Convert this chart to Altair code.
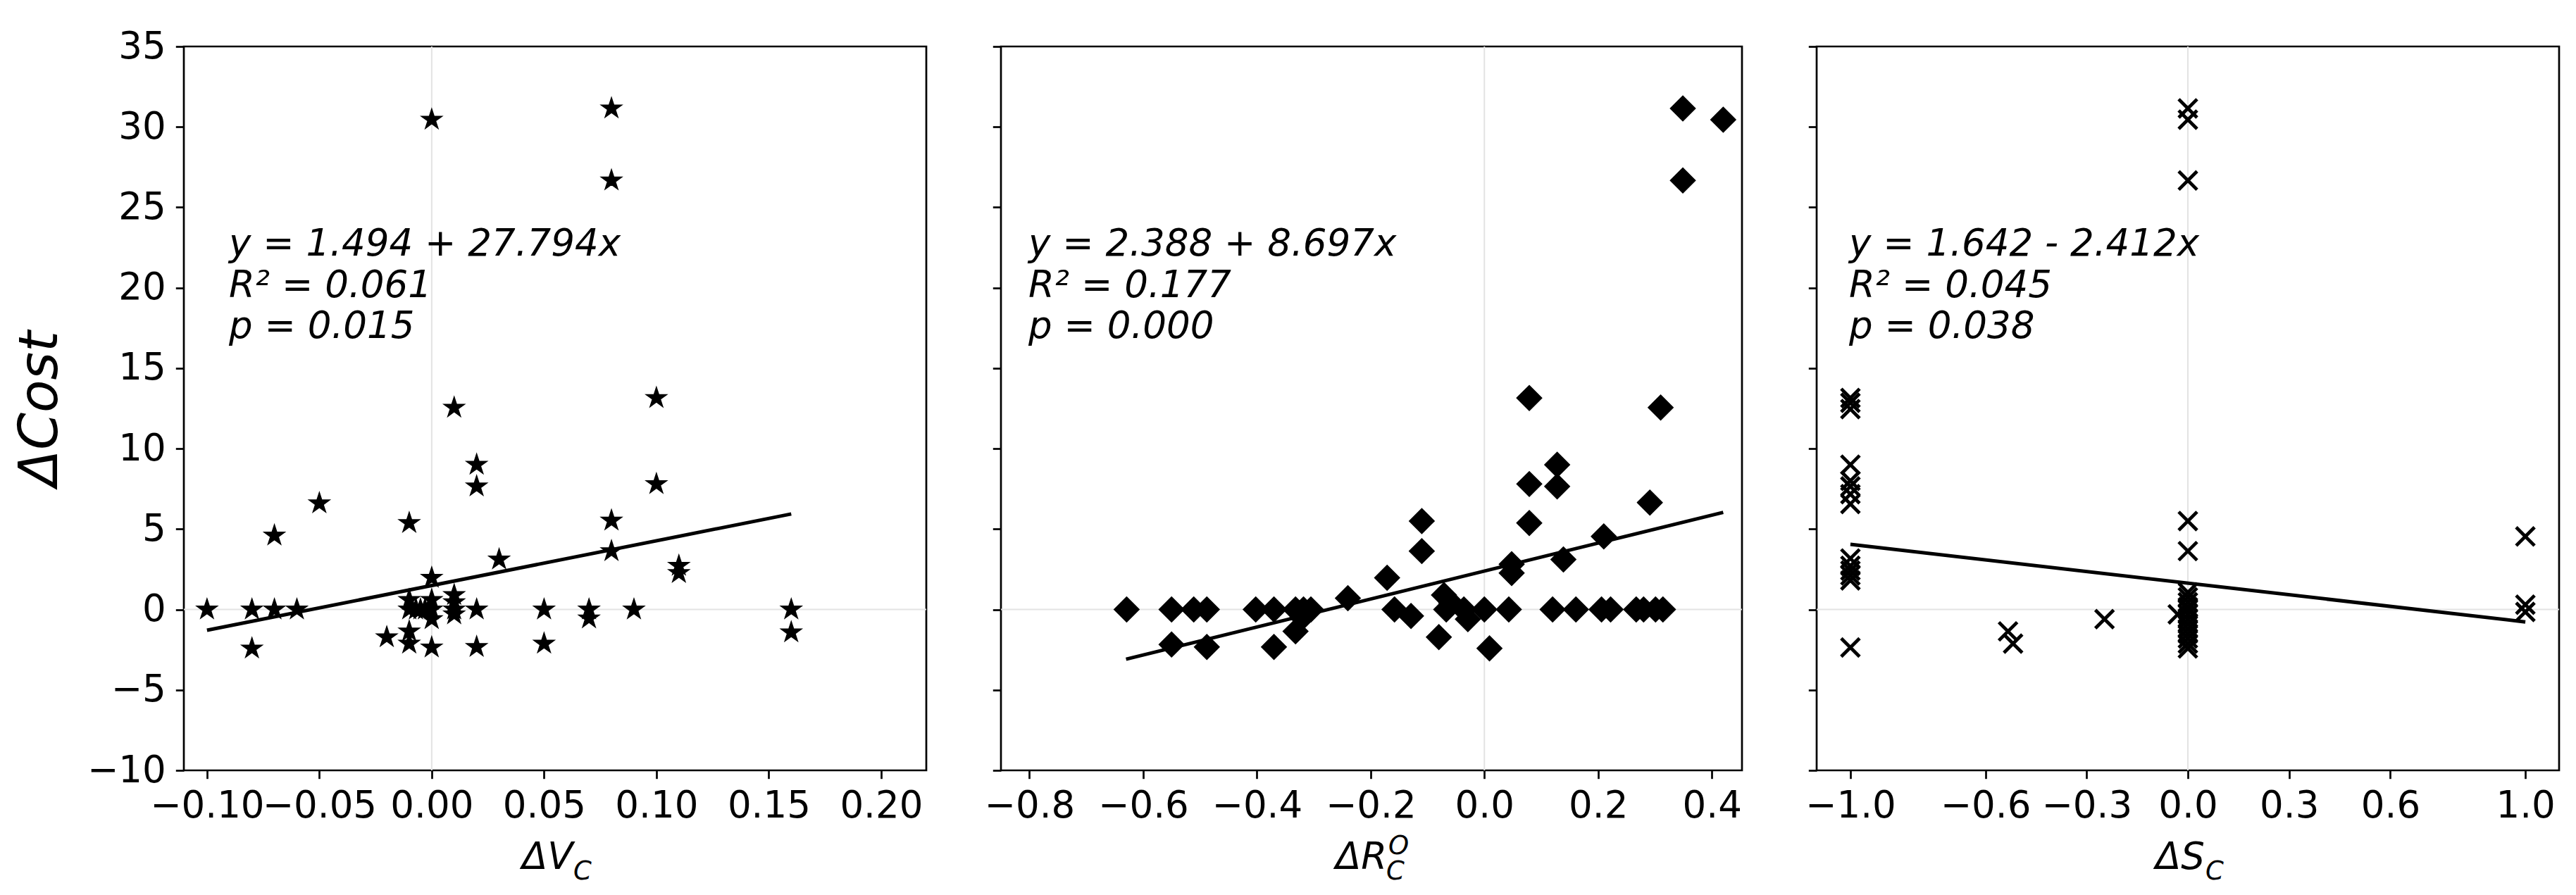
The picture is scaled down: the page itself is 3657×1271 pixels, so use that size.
import altair as alt
import pandas as pd

# ---------------- data ----------------
# Panel 1: ΔV_C vs ΔCost
v_x = [-0.10, -0.08, -0.08, -0.07, -0.07, -0.06, -0.05, -0.02, -0.01, -0.01,
       -0.01, -0.01, -0.01, -0.007, -0.005, -0.003, 0.0, 0.0, 0.0, 0.0,
       0.0, 0.0, 0.01, 0.01, 0.01, 0.01, 0.01, 0.02, 0.02, 0.02,
       0.02, 0.03, 0.05, 0.05, 0.07, 0.07, 0.08, 0.08, 0.08, 0.08,
       0.09, 0.10, 0.10, 0.11, 0.11, 0.16, 0.16]
v_y = [0.0, 0.0, -2.42, 0.0, 4.6, 0.0, 6.6, -1.72, 5.38, 0.6,
       0.0, -1.36, -2.12, 0.0, 0.0, 0.0, 30.45, 1.97, 0.6, 0.0,
       -0.6, -2.36, 12.55, 0.9, 0.45, 0.0, -0.3, 9.0, 7.65, 0.0,
       -2.33, 3.11, 0.0, -2.12, 0.0, -0.55, 31.15, 26.67, 5.53, 3.63,
       0.0, 13.15, 7.8, 2.72, 2.27, 0.0, -1.42]

# Panel 2: ΔR_C^O vs ΔCost
r_x = [-0.629, -0.550, -0.550, -0.511, -0.488, -0.488, -0.402, -0.370, -0.370, -0.332,
       -0.332, -0.318, -0.305, -0.320, -0.240, -0.171, -0.158, -0.129, -0.110, -0.110,
       -0.080, -0.071, -0.067, -0.058, -0.036, -0.029, 0.0, 0.009, 0.043, 0.048,
       0.048, 0.079, 0.079, 0.079, 0.120, 0.128, 0.128, 0.139, 0.161, 0.206,
       0.222, 0.210, 0.267, 0.280, 0.291, 0.301, 0.310, 0.314, 0.349, 0.349,
       0.420]
r_y = [0.0, 0.0, -2.18, 0.0, 0.0, -2.33, 0.0, 0.0, -2.33, 0.0,
       -1.36, 0.0, 0.0, -0.5, 0.7, 1.97, 0.0, -0.4, 5.5, 3.63,
       -1.72, 0.9, 0.0, 0.4, 0.0, -0.6, 0.0, -2.42, 0.0, 2.27,
       2.81, 13.15, 7.8, 5.38, 0.0, 9.0, 7.65, 3.11, 0.0, 0.0,
       0.0, 4.54, 0.0, 0.0, 6.65, 0.0, 12.55, 0.0, 31.15, 26.67,
       30.45]

# Panel 3: ΔS_C vs ΔCost
s_x = [-1.0, -1.0, -1.0, -1.0, -1.0, -1.0, -1.0, -1.0, -1.0, -1.0,
       -1.0, -1.0, -1.0, -1.0, -0.533, -0.518, -0.247, -0.03, 0.0, 0.0,
       0.0, 0.0, 0.0, 0.0, 0.0, 0.0, 0.0, 0.0, 0.0, 0.0,
       0.0, 0.0, 0.0, 0.0, 0.0, 0.0, 1.0, 1.0, 1.0]
s_y = [13.15, 12.85, 12.46, 9.0, 8.0, 7.65, 7.17, 6.56, 3.17, 2.72,
       2.42, 2.12, 1.81, -2.36, -1.36, -2.12, -0.6, -0.3, 31.15, 30.45,
       26.67, 5.5, 3.63, 1.06, 0.76, 0.45, 0.15, 0.0, -0.3, -0.6,
       -0.9, -1.2, -1.5, -1.8, -2.12, -2.42, 4.54, 0.3, -0.15]

# fitted regression lines (end points)
fit_v_x = [-0.10, 0.16]
fit_v_y = [-1.29, 5.94]
fit_r_x = [-0.63, 0.42]
fit_r_y = [-3.09, 6.04]
fit_s_x = [-1.0, 1.0]
fit_s_y = [4.05, -0.77]

ann_v = ["y = 1.494 + 27.794x", "R\u00b2 = 0.061", "p = 0.015"]
ann_r = ["y = 2.388 + 8.697x", "R\u00b2 = 0.177", "p = 0.000"]
ann_s = ["y = 1.642 - 2.412x", "R\u00b2 = 0.045", "p = 0.038"]

v_ticks = [-0.10, -0.05, 0.00, 0.05, 0.10, 0.15, 0.20]
r_ticks = [-0.8, -0.6, -0.4, -0.2, 0.0, 0.2, 0.4]
s_ticks = [-1.0, -0.6, -0.3, 0.0, 0.3, 0.6, 1.0]
y_ticks = [-10, -5, 0, 5, 10, 15, 20, 25, 30, 35]

# ---------------- styling ----------------
FONT = "DejaVu Sans"
H = 1028
FS = 53
Y_DOMAIN = [-10, 35]
STAR = ("M0,-1L0.2245,-0.309L0.951,-0.309L0.3633,0.118L0.5878,0.809"
        "L0,0.382L-0.5878,0.809L-0.3633,0.118L-0.951,-0.309L-0.2245,-0.309Z")
XCROSS = "M-1,-1L1,1M-1,1L1,-1"


def minus(fmt):
    return "replace(format(datum.value, '" + fmt + "'), '-', '\u2212')"


def panel(xs, ys, fx, fy, xdomain, xticks, xfmt, mark_kw, width, ann, ann_x,
          t_main, t_sub, t_sup, t_x, main_w, first):
    pts = pd.DataFrame({"x": xs, "y": ys})
    fit = pd.DataFrame({"x": fx, "y": fy})
    zero = pd.DataFrame({"z": [0.0]})
    one = pd.DataFrame({"a": [0]})

    xscale = alt.Scale(domain=xdomain, nice=False, zero=False)
    yscale = alt.Scale(domain=Y_DOMAIN, nice=False, zero=False)

    xaxis = alt.Axis(values=xticks, labelExpr=minus(xfmt), title=None, grid=False,
                     domain=False, tickSize=11.7, tickWidth=2.7, tickColor="black",
                     labelFont=FONT, labelFontSize=FS, labelColor="black",
                     labelPadding=13, labelFlush=False, labelOverlap=False)
    if first:
        yaxis = alt.Axis(values=y_ticks, labelExpr=minus("d"), title="\u0394Cost",
                         grid=False, domain=False, tickSize=11.7, tickWidth=2.7,
                         tickColor="black", labelFont=FONT, labelFontSize=FS,
                         labelColor="black", labelPadding=14, labelFlush=False,
                         labelOverlap=False, titleFont=FONT, titleFontSize=76,
                         titleFontStyle="italic", titleFontWeight="normal",
                         titleColor="black", titlePadding=27)
    else:
        yaxis = alt.Axis(values=y_ticks, labels=False, title=None, grid=False,
                         domain=False, tickSize=11.7, tickWidth=2.7, tickColor="black")

    base = alt.Chart(pts)
    vgrid = alt.Chart(zero).mark_rule(color="#e3e3e3", strokeWidth=2).encode(
        x=alt.X("z:Q", scale=xscale, axis=xaxis))
    hgrid = alt.Chart(zero).mark_rule(color="#e3e3e3", strokeWidth=2).encode(
        y=alt.Y("z:Q", scale=yscale, axis=yaxis))
    points = base.mark_point(color="black", opacity=1, **mark_kw).encode(
        x=alt.X("x:Q", scale=xscale, axis=xaxis),
        y=alt.Y("y:Q", scale=yscale, axis=yaxis))
    line = alt.Chart(fit).mark_line(color="black", strokeWidth=5).encode(
        x=alt.X("x:Q", scale=xscale, axis=xaxis),
        y=alt.Y("y:Q", scale=yscale, axis=yaxis))
    text = alt.Chart(one).mark_text(
        text=ann, align="left", baseline="alphabetic", font=FONT, fontSize=FS,
        fontStyle="italic", lineHeight=58.5, color="black"
    ).encode(x=alt.value(ann_x), y=alt.value(297))

    tbase = H + 140
    title_main = alt.Chart(one).mark_text(
        text=t_main, align="left", baseline="alphabetic", font=FONT, fontSize=FS,
        fontStyle="italic", color="black").encode(x=alt.value(t_x), y=alt.value(tbase))
    layers = [vgrid, hgrid, points, line, text, title_main]
    title_sub = alt.Chart(one).mark_text(
        text=t_sub, align="left", baseline="alphabetic", font=FONT, fontSize=37,
        fontStyle="italic", color="black").encode(
        x=alt.value(t_x + main_w), y=alt.value(tbase + 15))
    layers.append(title_sub)
    if t_sup:
        title_sup = alt.Chart(one).mark_text(
            text=t_sup, align="left", baseline="alphabetic", font=FONT, fontSize=37,
            fontStyle="italic", color="black").encode(
            x=alt.value(t_x + main_w + 3), y=alt.value(tbase - 21))
        layers.append(title_sup)

    return alt.layer(*layers).properties(width=width, height=H)


p1 = panel(v_x, v_y, fit_v_x, fit_v_y, [-0.1103, 0.2201], v_ticks, ".2f",
           dict(shape=STAR, filled=True, size=930, stroke="black", strokeWidth=1.5),
           1054, ann_v, 64, "\u0394V", "C", None, 480, 73, True)
p2 = panel(r_x, r_y, fit_r_x, fit_r_y, [-0.85, 0.453], r_ticks, ".1f",
           dict(shape="diamond", filled=True, size=1250, stroke="black", strokeWidth=1.5),
           1052, ann_r, 39, "\u0394R", "C", "O", 475, 72, False)
p3 = panel(s_x, s_y, fit_s_x, fit_s_y, [-1.1, 1.1], s_ticks, ".1f",
           dict(shape=XCROSS, filled=False, size=680, strokeWidth=4.8),
           1054, ann_s, 46, "\u0394S", "C", None, 481, 71, False)

chart = alt.hconcat(p1, p2, p3, spacing=106, bounds="flush").properties(
    padding={"left": 10, "top": 30, "right": 5, "bottom": 5},
    background="white",
).configure_view(stroke="black", strokeWidth=2.7)

chart.save("out.html", embed_options={"renderer": "svg", "actions": False})
